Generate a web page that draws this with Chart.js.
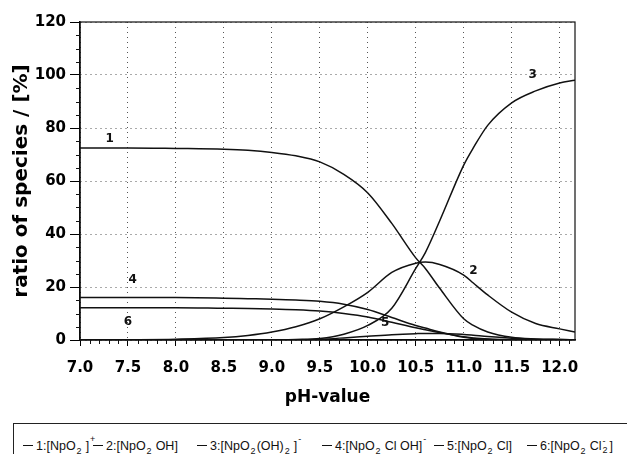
<!DOCTYPE html>
<html>
<head>
<meta charset="utf-8">
<script src="https://cdn.jsdelivr.net/npm/chart.js@4"></script>
<style>
  body { margin: 0; background: #fff; }
  #wrap { position: relative; width: 627px; height: 454px; overflow: hidden; }
  #chart { position: absolute; left: 0; top: 0; }
  #legend {
    position: absolute; left: 13px; top: 423px; width: 640px; height: 40px;
    border: 1px solid #222; box-sizing: border-box;
    font-family: "Liberation Sans", Arial, sans-serif; font-size: 12.5px; color: #111;
  }
  .item { position: absolute; top: 15px; height: 14px; white-space: nowrap; line-height: 14px; }
  .mk { display: inline-block; width: 10px; height: 0; border-top: 1.5px solid #111; vertical-align: 4px; margin-right: 3px; }
  .item sub { font-size: 9px; line-height: 0; vertical-align: -4px; margin: 0 4px 0 1px; }
  .item sup { font-size: 9px; line-height: 0; vertical-align: 8px; margin-left: 1px; }
  .item sub.tight { margin-right: 1px; }
  .item .st { display: inline-block; position: relative; width: 8px; }
  .item .st sup, .item .st sub { position: absolute; left: 1px; margin: 0; }
  .item .st sup { top: -9px; }
  .item .st sub { top: 0px; }
</style>
</head>
<body>
<div id="wrap">
  <canvas id="chart" width="627" height="420"></canvas>
  <div id="legend"></div>
</div>
<script>
// pH sampling points shared by all curves
const pH = [7.0, 7.5, 8.0, 8.5, 8.75, 9.0, 9.25, 9.5, 9.75, 10.0, 10.25, 10.5, 10.6, 10.75, 11.0, 11.1, 11.25, 11.5, 11.75, 12.0, 12.16];

// species ratios in %
const npo2      = [72.5, 72.5, 72.3, 72.0, 71.6, 70.8, 69.5, 67.2, 62.5, 55.5, 44.0, 31.0, 27.0, 19.5, 8.0, 5.5, 3.0, 1.0, 0.4, 0.2, 0.1];
const npo2oh    = [0, 0.1, 0.3, 0.9, 1.7, 3.0, 5.0, 8.0, 12.5, 18.0, 25.5, 29.0, 29.4, 28.5, 24.5, 21.5, 17.0, 10.5, 6.2, 4.2, 3.0];
const npo2oh2   = [0, 0, 0, 0, 0, 0, 0.2, 0.6, 2.2, 5.5, 12.0, 27.0, 33.0, 45.0, 66.0, 72.5, 81.0, 89.5, 94.0, 97.0, 98.0];
const npo2cloh  = [16.0, 16.0, 16.0, 15.8, 15.6, 15.4, 15.1, 14.6, 13.5, 11.5, 8.5, 5.5, 4.5, 3.0, 1.0, 0.6, 0.3, 0.1, 0, 0, 0];
const npo2cl    = [0, 0, 0, 0, 0, 0.05, 0.1, 0.3, 0.8, 1.4, 2.0, 2.4, 2.5, 2.5, 2.1, 1.8, 1.3, 0.7, 0.3, 0.15, 0.1];
const npo2cl2   = [12.2, 12.2, 12.2, 12.0, 11.9, 11.7, 11.4, 10.9, 10.0, 8.7, 6.7, 4.6, 3.9, 2.8, 1.2, 0.8, 0.4, 0.1, 0, 0, 0];

const seriesNames = ["1:[NpO2]+", "2:[NpO2OH]", "3:[NpO2(OH)2]-", "4:[NpO2Cl OH]-", "5:[NpO2Cl]", "6:[NpO2Cl2-]"];
const legendHtml = [
  "1:[NpO<sub>2</sub>]<sup>+</sup>",
  "2:[NpO<sub>2</sub>OH]",
  "3:[NpO<sub class=\"tight\">2</sub>(OH)<sub>2</sub>]<sup>-</sup>",
  "4:[NpO<sub>2</sub>Cl OH]<sup>-</sup>",
  "5:[NpO<sub>2</sub>Cl]",
  "6:[NpO<sub>2</sub>Cl<span class=\"st\"><sup>-</sup><sub>2</sub></span>]"
];

// curve number labels, placed in data units
const curveLabels = ["1", "2", "3", "4", "5", "6"];
const labelPH  = [7.31, 11.1, 11.72, 7.55, 10.18, 7.5];
const labelPct = [76, 26, 100, 22.6, 6.4, 7];

const xTicks = [7.0, 7.5, 8.0, 8.5, 9.0, 9.5, 10.0, 10.5, 11.0, 11.5, 12.0];
const yTicks = [0, 20, 40, 60, 80, 100, 120];

// legend (HTML so sub/superscripts work); left offsets inside the box
const legendLeft = [9, 79, 183, 308, 420, 513];
const legend = document.getElementById("legend");
legendHtml.forEach((h, i) => {
  const d = document.createElement("div");
  d.className = "item";
  d.style.left = legendLeft[i] + "px";
  d.innerHTML = '<span class="mk"></span>' + h;
  legend.appendChild(d);
});

const allSeries = [npo2, npo2oh, npo2oh2, npo2cloh, npo2cl, npo2cl2];
const tickFont = { family: "DejaVu Sans", size: 15, weight: "bold" };

const extras = {
  id: "extras",
  afterDraw(chart) {
    const ctx = chart.ctx;
    const xs = chart.scales.x, ys = chart.scales.y;
    const a = chart.chartArea;
    ctx.save();
    ctx.strokeStyle = "#111";
    ctx.lineWidth = 1.2;
    ctx.strokeRect(a.left, a.top, a.right - a.left, a.bottom - a.top);

    // minor ticks
    ctx.lineWidth = 1;
    ctx.beginPath();
    for (let i = 71; i <= 121; i++) {
      if (i % 5 === 0) continue;
      const px = Math.round(xs.getPixelForValue(i / 10)) + 0.5;
      ctx.moveTo(px, a.bottom);
      ctx.lineTo(px, a.bottom + 4);
    }
    for (let v = 5; v < 120; v += 5) {
      if (v % 20 === 0) continue;
      const py = Math.round(ys.getPixelForValue(v)) + 0.5;
      ctx.moveTo(a.left - 4, py);
      ctx.lineTo(a.left, py);
    }
    ctx.stroke();

    // curve numbers
    ctx.fillStyle = "#111";
    ctx.font = "bold 12px 'DejaVu Sans'";
    ctx.textAlign = "center";
    ctx.textBaseline = "middle";
    curveLabels.forEach((t, i) => {
      ctx.fillText(t, xs.getPixelForValue(labelPH[i]), ys.getPixelForValue(labelPct[i]));
    });
    ctx.restore();
  }
};

new Chart(document.getElementById("chart"), {
  type: "line",
  data: {
    datasets: allSeries.map((s, i) => ({
      label: seriesNames[i],
      data: pH.map((x, j) => ({ x: x, y: s[j] })),
      borderColor: "#111",
      borderWidth: 1.5,
      pointRadius: 0,
      cubicInterpolationMode: "monotone",
      fill: false
    }))
  },
  options: {
    responsive: false,
    animation: false,
    devicePixelRatio: 1,
    layout: { padding: { top: 22, right: 52, bottom: 0, left: 0 } },
    plugins: { legend: { display: false }, tooltip: { enabled: false } },
    scales: {
      x: {
        type: "linear",
        min: 7.0,
        max: 12.16,
        afterBuildTicks: s => { s.ticks = xTicks.map(v => ({ value: v })); },
        afterFit: s => { s.height = 80; },
        ticks: {
          autoSkip: false, maxRotation: 0, color: "#000", font: tickFont, padding: 13,
          callback: v => Number(v).toFixed(1)
        },
        grid: { color: "#555", tickColor: "#000", tickLength: 6, lineWidth: 1 },
        border: { display: true, color: "#000", width: 1.5, dash: [1, 4] },
        title: {
          display: true, text: "pH-value", color: "#000",
          font: { family: "DejaVu Sans", size: 17, weight: "bold" },
          padding: { top: 0, bottom: 12 }
        }
      },
      y: {
        min: 0,
        max: 120,
        afterBuildTicks: s => { s.ticks = yTicks.map(v => ({ value: v })); },
        afterFit: s => { s.width = 80; },
        ticks: { color: "#000", font: tickFont, padding: 4 },
        grid: { color: "#555", tickColor: "#000", tickLength: 10, lineWidth: 1 },
        border: { display: true, color: "#000", width: 1.5, dash: [1, 4] },
        title: {
          display: true, text: "ratio of species / [%]", color: "#000",
          font: { family: "DejaVu Sans", size: 20, weight: "bold" },
          padding: { top: 10, bottom: 0 }
        }
      }
    }
  },
  plugins: [extras]
});
</script>
</body>
</html>
